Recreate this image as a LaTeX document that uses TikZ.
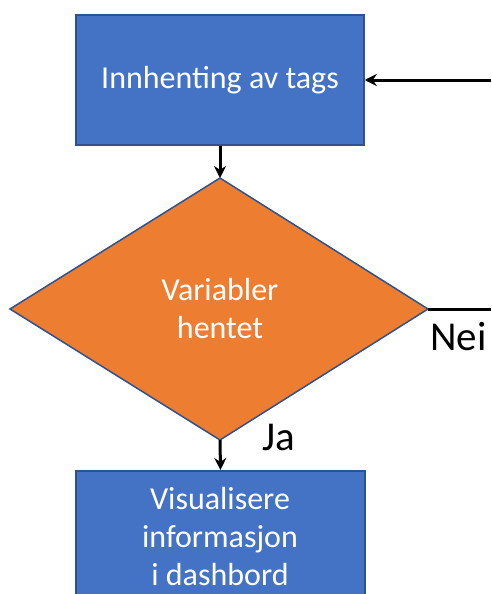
\documentclass[tikz,border=0pt]{standalone}
\usepackage{fontspec}
\setmainfont{Carlito}
\usetikzlibrary{shapes.geometric,arrows.meta}
\definecolor{boxblue}{HTML}{4472C4}
\definecolor{edgeblue}{HTML}{2F528F}
\definecolor{dorange}{HTML}{ED7D31}
\begin{document}
\begin{tikzpicture}[x=1pt,y=-1pt,
  procbox/.style={draw=edgeblue,line width=1.5pt,fill=boxblue,text=white,font=\fontsize{32}{38}\selectfont,align=center,inner sep=0pt},
  wtext/.style={text=white,font=\fontsize{32}{38}\selectfont,align=center},
  conn/.style={line width=3pt,-{Stealth[length=12pt,width=12pt]}},
  lbl/.style={font=\fontsize{41}{46}\selectfont,text=black}]
\useasboundingbox (0,0) rectangle (491,594);
\clip (0,0) rectangle (491,594);
\node[procbox,minimum width=288pt,minimum height=130pt] (inn) at (220,80) {Innhenting av tags};
\draw[draw=edgeblue,line width=1.5pt,fill=dorange] (220,178) -- (428,309) -- (220,440) -- (10,309) -- cycle;
\coordinate (dtop) at (220,178);
\coordinate (dright) at (428,309);
\coordinate (dbot) at (220,440);
\node[wtext] (var) at (220,309) {Variabler\\hentet};
\node[procbox,minimum width=289pt,minimum height=160pt,anchor=north] (vis) at (220.5,470) {};
\node[wtext] (vistext) at (220,537) {Visualisere\\informasjon\\i dashbord};
\coordinate (re) at (491,309);
\coordinate (ra) at (491,80);
\draw[line width=3pt] (dright) -- (re);
\draw[conn] (ra) -- (inn.east);
\draw[conn] (inn.south) -- (dtop);
\draw[conn] (dbot) -- (vis.north);
\node[lbl,anchor=north west,inner sep=0pt] (nei) at (430,322) {Nei};
\node[lbl,anchor=north west,inner sep=0pt] (ja) at (262,424) {Ja};
\end{tikzpicture}
\end{document}
